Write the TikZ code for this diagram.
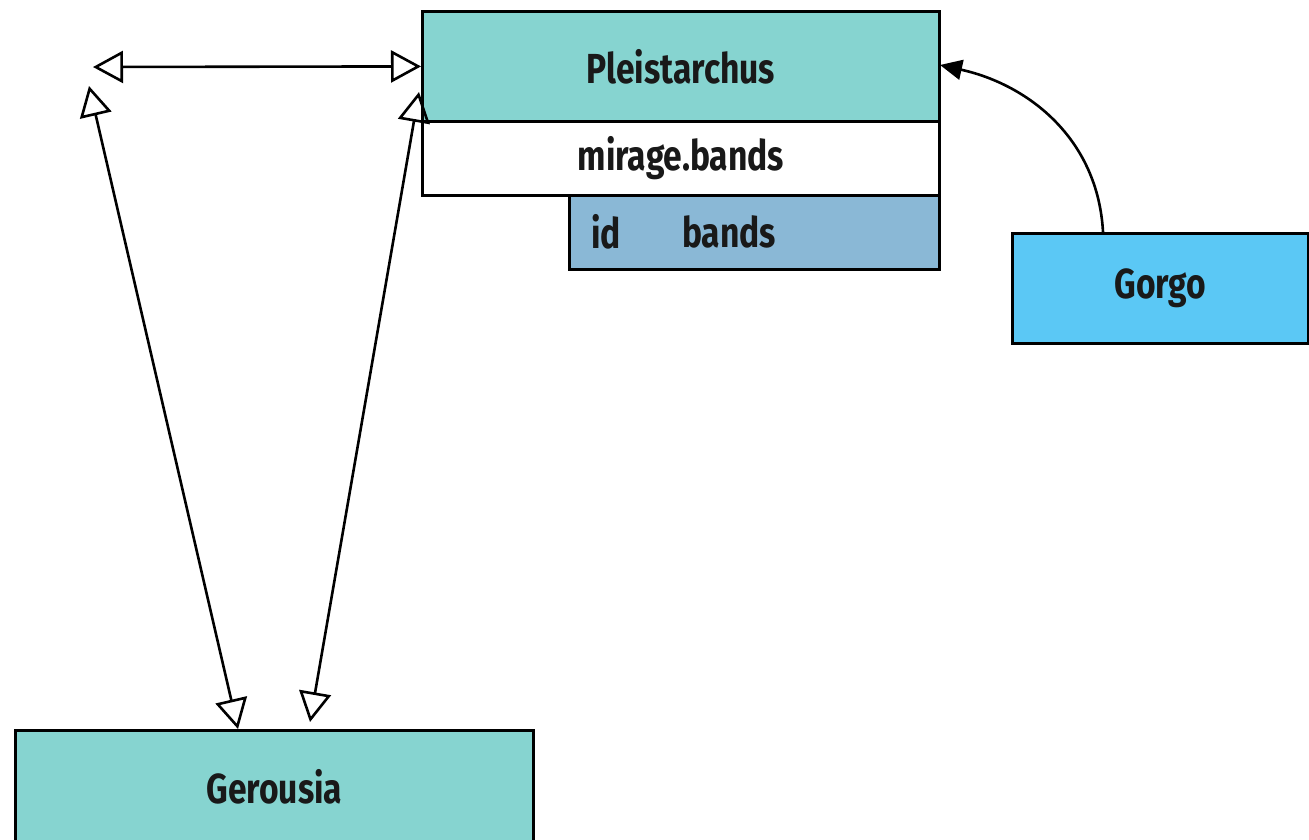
\documentclass[tikz,border=0pt]{standalone}
\usepackage{fontspec}
\newfontfamily\labfont[FakeStretch=0.8]{Fira Sans Bold}
\usetikzlibrary{arrows.meta}
\definecolor{tealfill}{RGB}{134,212,208}
\definecolor{rowfill}{RGB}{138,184,214}
\definecolor{gorgofill}{RGB}{91,200,245}
\tikzset{
  lab/.style={font=\labfont\fontsize{42}{46}\selectfont, text=black!90},
  box/.style={draw=black, line width=2.8pt, anchor=north west, inner sep=0pt, lab},
  oarrow/.style={line width=2.6pt, {Triangle[open,length=30pt,width=32pt,line width=2.6pt]}-{Triangle[open,length=30pt,width=32pt,line width=2.6pt]}},
  farrow/.style={line width=2.6pt, -{Triangle[length=22pt,width=20pt]}}
}
\begin{document}
\begin{tikzpicture}[x=1pt,y=-1pt]
\useasboundingbox (0,0) rectangle (1309,839);
\node[box, fill=tealfill, minimum width=517pt, minimum height=110pt] (P) at (421,10) {Pleistarchus};
\node[box, fill=white, minimum width=517pt, minimum height=74pt] (M) at (421,120) {mirage.bands};
\node[box, fill=rowfill, minimum width=370pt, minimum height=74pt] (R) at (568,194) {};
\node[lab, anchor=center] (Rid) at (606,232) {id};
\node[lab, anchor=center] (Rb) at (729,232) {bands};
\node[box, fill=gorgofill, minimum width=296pt, minimum height=110pt] (Go) at (1011,232) {Gorgo};
\node[box, fill=tealfill, minimum width=518pt, minimum height=112pt] (Ge) at (14,729) {Gerousia};
\coordinate (L) at (93,67);
\coordinate (LT) at (89,86);
\coordinate (LB) at (238,729);
\coordinate (RT) at (419,92);
\coordinate (RB) at (310,722);
\coordinate (GoS) at (1103,232);
\coordinate (PE) at (940,65);
\draw[oarrow] (L) -- (P.west);
\draw[oarrow] (LT) -- (LB);
\draw[oarrow] (RT) -- (RB);
\draw[farrow] (GoS) .. controls (1098,140) and (1030,85) .. (PE);
\end{tikzpicture}
\end{document}
